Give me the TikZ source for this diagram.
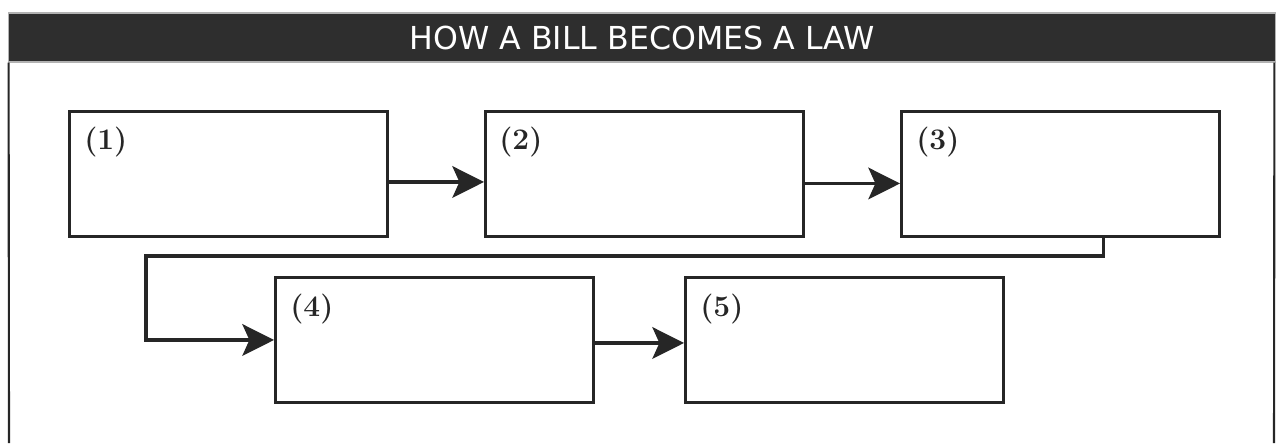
\documentclass[tikz,border=0pt]{standalone}
\usepackage{fontspec}
\newfontfamily\headfont{DejaVu Sans}
\usepackage{tikz}
\usetikzlibrary{arrows.meta}
\definecolor{headgray}{HTML}{2E2E2E}
\definecolor{inkgray}{HTML}{262626}

\begin{document}
\begin{tikzpicture}[x=0.02cm, y=-0.02cm,
        header/.style={rectangle, fill=headgray, draw=gray!60, line width=0.6pt, minimum width=25.36cm, minimum height=0.98cm, inner sep=0pt, text=white, font=\headfont\fontsize{18}{21}\selectfont},
        stepbox/.style={rectangle, draw=inkgray, line width=1.7pt, minimum width=6.36cm, minimum height=2.5cm, anchor=north west, inner sep=0pt},
        numlabel/.style={anchor=north west, inner sep=0pt, text=inkgray, font=\fontsize{17}{20}\selectfont\bfseries},
        flow/.style={draw=inkgray, line width=1.9pt, -{Stealth[length=18pt, width=18pt, inset=4pt]}}]
        \useasboundingbox (0,0) rectangle (1280,443);

        \node[header] (head) at (642,37.5) {HOW A BILL BECOMES A LAW};
        \draw[inkgray, line width=1.2pt] (head.south west) ++(1,0) -- (9,443);
        \draw[inkgray, line width=1.2pt] (head.south east) ++(-2,0) -- (1274,443);

        \node[stepbox] (b1) at (68,110) {};
        \node[stepbox] (b2) at (484,110) {};
        \node[stepbox] (b3) at (900,110) {};
        \node[stepbox] (b4) at (274,276) {};
        \node[stepbox] (b5) at (684,276) {};

        \node[numlabel] (n1) at ([xshift=0.32cm, yshift=-0.34cm]b1.north west) {(1)};
        \node[numlabel] (n2) at ([xshift=0.30cm, yshift=-0.34cm]b2.north west) {(2)};
        \node[numlabel] (n3) at ([xshift=0.32cm, yshift=-0.34cm]b3.north west) {(3)};
        \node[numlabel] (n4) at ([xshift=0.32cm, yshift=-0.36cm]b4.north west) {(4)};
        \node[numlabel] (n5) at ([xshift=0.32cm, yshift=-0.36cm]b5.north west) {(5)};

        \coordinate (turn) at (146,256);
        \draw[flow] ([yshift=-0.16cm]b1.east) -- ([yshift=-0.16cm]b2.west);
        \draw[flow] ([yshift=-0.19cm]b2.east) -- ([yshift=-0.19cm]b3.west);
        \draw[flow] ([xshift=0.86cm]b3.south) |- (turn) |- (b4.west);
        \draw[flow] ([yshift=-0.06cm]b4.east) -- ([yshift=-0.06cm]b5.west);
    \end{tikzpicture}
\end{document}
